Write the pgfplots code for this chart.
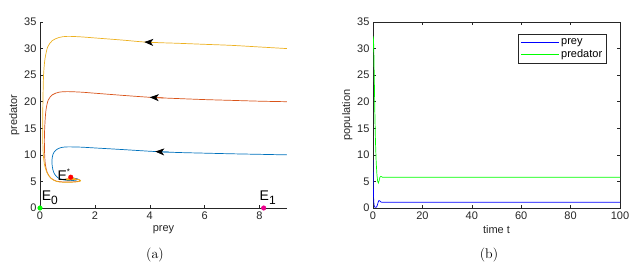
\documentclass[border=0pt]{standalone}
\usepackage{fontspec}
\setsansfont{Liberation Sans}
\usepackage{pgfplots}
\pgfplotsset{compat=1.18}
\usetikzlibrary{arrows.meta}
\definecolor{mblue}{rgb}{0,0.447,0.741}
\definecolor{morange}{rgb}{0.85,0.325,0.098}
\definecolor{myellow}{rgb}{0.929,0.694,0.125}
\definecolor{axgray}{rgb}{0.15,0.15,0.15}
\pgfplotsset{
  mstyle/.style={
    scale only axis, width=247pt, height=186pt,
    anchor=south west,
    /pgf/number format/assume math mode=true,
    ticklabel style={font=\sffamily\fontsize{11}{12}\selectfont, text=axgray},
    label style={font=\sffamily\fontsize{11}{12}\selectfont, text=axgray},
    axis line style={axgray, line width=0.5pt},
    every tick/.style={axgray, line width=0.5pt},
    tick align=inside, major tick length=3pt,
    ymin=0, ymax=35, ytick={0,5,...,35},
    clip mode=individual,
  }
}
\begin{document}
\begin{tikzpicture}[x=1pt,y=1pt]
\path[use as bounding box] (0,0) rectangle (635,276);
% ---------- (a) phase plane ----------
\begin{axis}[mstyle, at={(40pt,68pt)},
  axis lines*=left,
  xmin=0, xmax=9, xtick={0,2,4,6,8},
  xlabel={prey}, ylabel={predator},
  xlabel style={yshift=1pt}, ylabel style={yshift=-2pt}]
% blue trajectory
\addplot[mblue, line width=0.7pt, smooth, tension=0.5] coordinates {
(9,10) (8,10.1) (7,10.2) (6,10.32) (5,10.45) (4.3,10.6) (4,10.68) (3,11.0) (2,11.3) (1.5,11.45) (1,11.5) (0.75,11.35) (0.58,10.9) (0.48,10.2) (0.44,9.2) (0.44,8.2) (0.47,7.2) (0.53,6.4) (0.65,5.7) (0.85,5.3) (1.1,5.15) (1.32,5.25) (1.38,5.45) (1.25,5.6) (1.1,5.7) };
% orange trajectory
\addplot[morange, line width=0.7pt, smooth, tension=0.5] coordinates {
(9,20) (8,20.1) (7,20.25) (6,20.4) (5,20.6) (4.1,20.8) (3,21.2) (2,21.6) (1.5,21.8) (1,21.9) (0.7,21.8) (0.45,21.3) (0.3,20.3) (0.22,18.5) (0.18,16) (0.16,13) (0.17,10) (0.2,8) (0.27,6.6) (0.4,5.6) (0.6,5.05) (0.85,4.9) (1.15,4.9) (1.4,5.0) (1.47,5.2) (1.35,5.42) (1.1,5.5) (0.95,5.45) (0.95,5.35) (1.1,5.35) (1.3,5.45) (1.2,5.65) (1.1,5.75) };
% yellow trajectory
\addplot[myellow, line width=0.7pt, smooth, tension=0.5] coordinates {
(9,30) (8,30.3) (7,30.6) (6,30.8) (5,31.0) (3.9,31.2) (3,31.6) (2,32.0) (1.5,32.2) (1,32.3) (0.7,32.1) (0.45,31.5) (0.28,30.3) (0.18,28) (0.13,25) (0.11,21) (0.1,17) (0.1,13) (0.12,10) (0.17,8) (0.26,6.6) (0.4,5.6) (0.6,5.0) (0.85,4.85) (1.15,4.85) (1.42,4.98) (1.48,5.18) (1.36,5.4) (1.1,5.48) (0.92,5.4) (0.95,5.28) (1.15,5.3) (1.32,5.42) (1.2,5.62) (1.1,5.72) };
% arrow heads
\addplot[mblue, line width=0.7pt, -{Stealth[length=9pt,width=7pt,inset=2.5pt,black]}] coordinates {(4.7,10.52) (4.2,10.62)};
\addplot[morange, line width=0.7pt, -{Stealth[length=9pt,width=7pt,inset=2.5pt,black]}] coordinates {(4.5,20.72) (4.0,20.83)};
\addplot[myellow, line width=0.7pt, -{Stealth[length=9pt,width=7pt,inset=2.5pt,black]}] coordinates {(4.3,31.12) (3.8,31.23)};
% equilibria
\addplot[only marks, mark=*, mark size=2.3pt, red] coordinates {(1.12,5.8)};
\addplot[only marks, mark=*, mark size=2.3pt, green] coordinates {(0,0)};
\addplot[only marks, mark=*, mark size=2.3pt, magenta] coordinates {(8.15,0)};
\node[anchor=base west, inner sep=0pt, font=\sffamily\fontsize{14}{14}\selectfont] at (axis cs:0.06,1.4) {E\raisebox{-0.5ex}{\fontsize{12}{12}\selectfont 0}};
\node[anchor=base east, inner sep=0pt, font=\sffamily\fontsize{14}{14}\selectfont] at (axis cs:1.1,5.1) {E\raisebox{0.85ex}{\fontsize{8}{8}\selectfont *}};
\node[anchor=base west, inner sep=0pt, font=\sffamily\fontsize{14}{14}\selectfont] at (axis cs:8.0,1.4) {E\raisebox{-0.5ex}{\fontsize{12}{12}\selectfont 1}};
\end{axis}
% ---------- (b) time series ----------
\begin{axis}[mstyle, at={(373pt,68pt)},
  xmin=0, xmax=100, xtick={0,20,...,100},
  xlabel={time t}, ylabel={population},
  xlabel style={yshift=1pt}, ylabel style={yshift=-2pt},
  legend style={at={(0.945,0.935)}, anchor=north east, draw=axgray, line width=0.5pt,
    font=\sffamily\fontsize{11}{12}\selectfont, text=black, row sep=0pt, inner sep=2pt},
  legend cell align=left,
  legend image code/.code={\draw[#1] (0pt,0pt) -- (38pt,0pt);}]
\addplot[blue, line width=0.7pt] coordinates {
(0,9) (0.08,6) (0.18,3) (0.3,1.2) (0.5,0.4) (0.8,0.15) (1.2,0.12) (1.5,0.25) (1.8,0.6) (2.1,1.1) (2.4,1.4) (2.7,1.35) (3.1,1.15) (3.6,1.08) (5,1.1) (100,1.1) };
\addlegendentry{prey}
\addplot[green, line width=0.7pt] coordinates {
(0,30) (0.12,32.3) (0.3,30.5) (0.5,25) (0.75,18) (1.0,12.5) (1.3,8.5) (1.6,6.2) (1.9,5.0) (2.2,4.7) (2.5,5.2) (2.8,5.8) (3.2,5.95) (3.8,5.8) (5,5.8) (100,5.8) };
\addlegendentry{predator}
\end{axis}
\node[font=\fontsize{14}{16}\selectfont] at (155,21) {(a)};
\node[font=\fontsize{14}{16}\selectfont] at (489,21) {(b)};
\end{tikzpicture}
\end{document}
